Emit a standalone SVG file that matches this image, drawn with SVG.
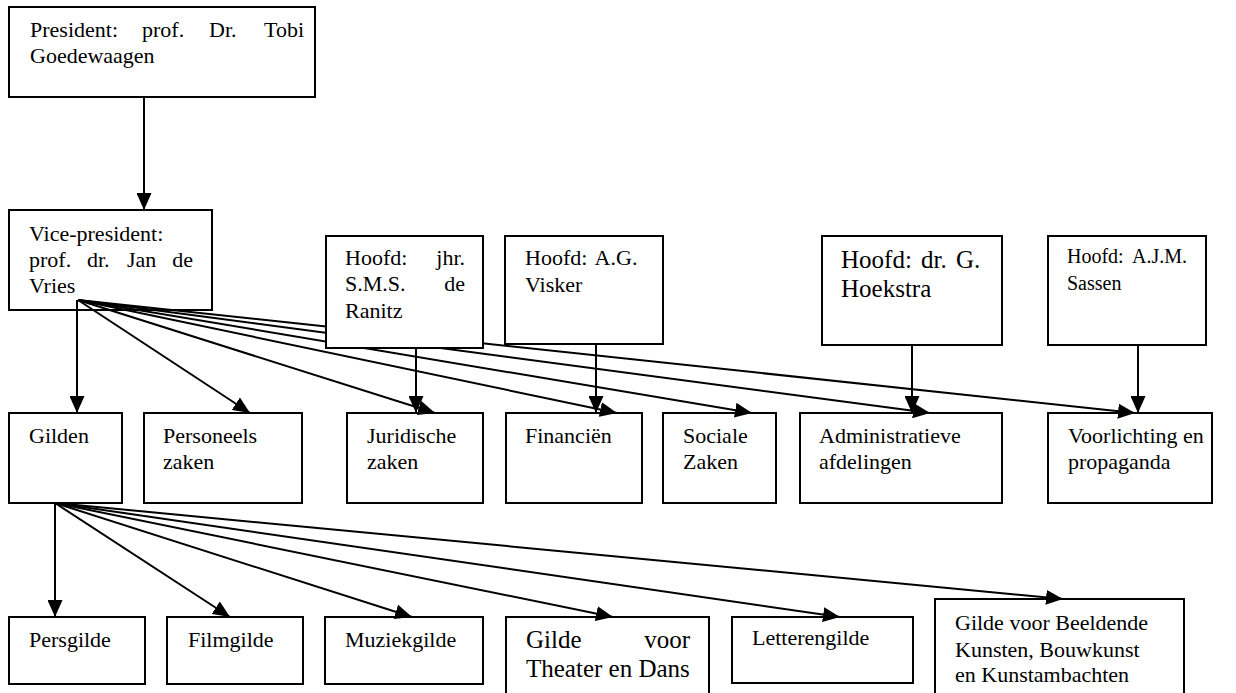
<svg xmlns="http://www.w3.org/2000/svg" width="1236" height="693" viewBox="0 0 1236 693">
<style>
rect.box{fill:#fff;stroke:#000;stroke-width:2}
rect.open{fill:none;stroke:#000;stroke-width:2}
text{font-family:"Liberation Serif","Times New Roman",serif;font-size:22px;fill:#000}
text.big{font-size:25px}
text.small{font-size:20px}
text.end{text-anchor:end}
#connectors line{stroke:#000;stroke-width:2;marker-end:url(#arr)}
</style>
<defs>
<marker id="arr" markerUnits="userSpaceOnUse" markerWidth="17" markerHeight="15" refX="17" refY="7.5" orient="auto">
<path d="M0,0 L17,7.5 L0,15 z" fill="#000"/>
</marker>
</defs>
<rect width="1236" height="693" fill="#fff"/>

<g id="president">
<rect class="box" x="9" y="7" width="306" height="90"/>
<text x="30" y="37">President:</text>
<text x="142" y="37">prof.</text>
<text x="209" y="37">Dr.</text>
<text class="end" x="304" y="37">Tobi</text>
<text x="30" y="63">Goedewaagen</text>
</g>
<g id="vicepresident">
<rect class="open" x="9" y="210" width="203" height="100"/>
<text x="29" y="241">Vice-president:</text>
<text x="29" y="267">prof.</text>
<text x="87" y="267">dr.</text>
<text x="127" y="267">Jan</text>
<text class="end" x="193" y="267">de</text>
<text x="29" y="293">Vries</text>
</g>
<g id="hoofd-visker">
<rect class="box" x="505" y="236" width="158" height="108"/>
<text x="525" y="265" word-spacing="3">Hoofd: A.G.</text>
<text x="525" y="292">Visker</text>
</g>
<g id="hoofd-hoekstra">
<rect class="box" x="822" y="236" width="180" height="109"/>
<text class="big" x="841" y="268" word-spacing="3">Hoofd: dr. G.</text>
<text class="big" x="841" y="297">Hoekstra</text>
</g>
<g id="hoofd-sassen">
<rect class="box" x="1048" y="236" width="158" height="109"/>
<text class="small" x="1067" y="263">Hoofd:</text>
<text class="end small" x="1187" y="263">A.J.M.</text>
<text class="small" x="1067" y="290">Sassen</text>
</g>

<g id="gilden">
<rect class="box" x="9" y="413" width="113" height="90"/>
<text x="29" y="443">Gilden</text>
</g>
<g id="personeelszaken">
<rect class="box" x="144" y="413" width="158" height="90"/>
<text x="163" y="443">Personeels</text>
<text x="163" y="469">zaken</text>
</g>
<g id="juridische">
<rect class="box" x="347" y="413" width="136" height="90"/>
<text x="367" y="443">Juridische</text>
<text x="367" y="469">zaken</text>
</g>
<g id="financien">
<rect class="box" x="506" y="413" width="136" height="90"/>
<text x="525" y="443">Financiën</text>
</g>
<g id="sociale">
<rect class="box" x="663" y="413" width="113" height="90"/>
<text x="683" y="443">Sociale</text>
<text x="683" y="469">Zaken</text>
</g>
<g id="administratieve">
<rect class="box" x="800" y="413" width="202" height="90"/>
<text x="819" y="443">Administratieve</text>
<text x="819" y="469">afdelingen</text>
</g>
<g id="voorlichting">
<rect class="box" x="1048" y="413" width="164" height="90"/>
<text x="1068" y="443">Voorlichting en</text>
<text x="1068" y="469">propaganda</text>
</g>

<g id="persgilde">
<rect class="box" x="9" y="617" width="136" height="67"/>
<text x="29" y="647">Persgilde</text>
</g>
<g id="filmgilde">
<rect class="box" x="167" y="617" width="136" height="67"/>
<text x="188" y="647">Filmgilde</text>
</g>
<g id="muziekgilde">
<rect class="box" x="325" y="617" width="158" height="67"/>
<text x="345" y="647">Muziekgilde</text>
</g>
<g id="theater">
<rect class="box" x="506" y="617" width="203" height="90"/>
<text class="big" x="526" y="648">Gilde</text>
<text class="end big" x="690" y="648">voor</text>
<text class="big" x="526" y="677">Theater en Dans</text>
</g>
<g id="letterengilde">
<rect class="box" x="732" y="617" width="181" height="66"/>
<text x="752" y="645">Letterengilde</text>
</g>
<g id="beeldende">
<rect class="box" x="935" y="599" width="249" height="110"/>
<text x="955" y="630">Gilde voor Beeldende</text>
<text x="955" y="657">Kunsten, Bouwkunst</text>
<text x="955" y="682">en Kunstambachten</text>
</g>

<g id="connectors">
<line x1="144" y1="97" x2="144" y2="210"/>
<line x1="77" y1="300" x2="77" y2="413"/>
<line x1="78" y1="300" x2="250" y2="413"/>
<line x1="78" y1="300" x2="435" y2="413"/>
<line x1="78" y1="300" x2="617" y2="413"/>
<line x1="78" y1="300" x2="752" y2="413"/>
<line x1="78" y1="300" x2="930" y2="413"/>
<line x1="78" y1="300" x2="1135" y2="413"/>
<line x1="416" y1="348" x2="416" y2="413"/>
<line x1="596" y1="344" x2="596" y2="413"/>
<line x1="912" y1="345" x2="912" y2="413"/>
<line x1="1138" y1="345" x2="1138" y2="413"/>
<line x1="55" y1="503" x2="55" y2="617"/>
<line x1="55" y1="503" x2="230" y2="617"/>
<line x1="55" y1="503" x2="412" y2="617"/>
<line x1="55" y1="503" x2="613" y2="617"/>
<line x1="55" y1="503" x2="840" y2="617"/>
<line x1="55" y1="503" x2="1063" y2="599"/>
</g>

<g id="hoofd-ranitz">
<rect class="box" x="326" y="236" width="157" height="112"/>
<text x="345" y="265">Hoofd:</text>
<text class="end" x="465" y="265">jhr.</text>
<text x="345" y="291">S.M.S.</text>
<text class="end" x="465" y="291">de</text>
<text x="345" y="318">Ranitz</text>
</g>
</svg>
